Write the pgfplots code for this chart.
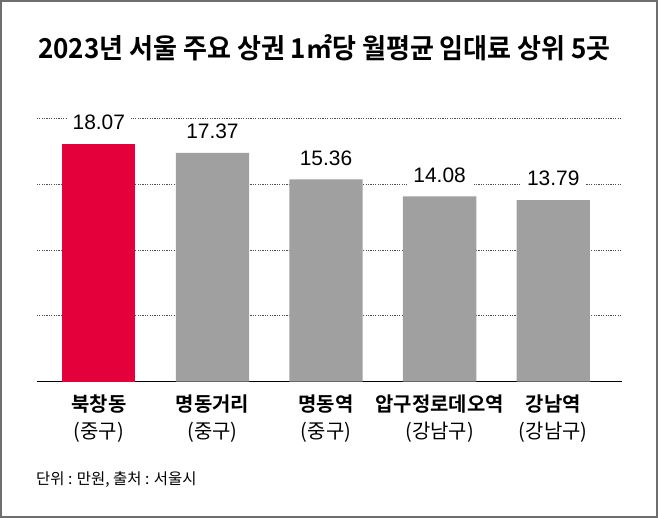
\documentclass[border=0pt]{standalone}
\usepackage{pgfplots}
\pgfplotsset{compat=1.18}
\usepackage{fontspec}
\setmainfont{Liberation Sans}
\newfontfamily\kr[BoldFont={Noto Sans CJK KR Bold}]{Noto Sans CJK KR}
\definecolor{barred}{RGB}{228,0,58}
\definecolor{bargray}{RGB}{160,160,160}
\definecolor{gridc}{RGB}{80,80,80}
\definecolor{framec}{RGB}{110,110,110}
\begin{document}
\begin{tikzpicture}[x=1bp,y=1bp]
\path[use as bounding box] (0,0) rectangle (658,518);
\fill[white] (0,0) rectangle (658,518);
\draw[framec, line width=1.6bp] (0.8,0.8) rectangle (657.2,517.2);
\node[anchor=west, inner sep=0pt] at (38,470.5) {\scalebox{0.95}[1]{\kr\bfseries\fontsize{27.5}{30}\selectfont 2023년 서울 주요 상권 1㎡당 월평균 임대료 상위 5곳}};
\node[anchor=west, inner sep=0pt] at (36,38) {\kr\fontsize{15.5}{18}\selectfont 단위 : 만원, 출처 : 서울시};
\begin{axis}[
  at={(36.7bp,136.3bp)}, anchor=south west,
  width=585bp, height=263.4bp, scale only axis,
  xmin=-0.547, xmax=4.603, ymin=0, ymax=20,
  axis x line*=bottom, axis y line*=left,
  x axis line style={black, line width=1.3bp, -},
  y axis line style={draw=none},
  ybar, bar width=73.3bp,
  ytick={5,10,15,20}, yticklabels={},
  ymajorgrids, grid style={gridc, line width=0.8bp, dash pattern=on 1.2bp off 1.2bp},
  xtick={0,1,2,3,4},
  major tick length=0pt,
  xticklabels={
    {\bfseries 북창동\\(중구)},
    {\bfseries 명동거리\\(중구)},
    {\bfseries 명동역\\(중구)},
    {\bfseries 압구정로데오역\\(강남구)},
    {\bfseries 강남역\\(강남구)}},
  xticklabel style={align=center, anchor=north, inner sep=0pt, yshift=-13bp,
    font=\kr\fontsize{20}{27}\selectfont},
  nodes near coords,
  nodes near coords style={font=\fontsize{21}{24}\selectfont, fill=white,
    inner xsep=6bp, inner ysep=3bp, anchor=south, yshift=10.7bp, text=black},
  point meta=explicit symbolic,
]
\addplot[fill=barred, draw=none, bar shift=0pt] coordinates {(0,18.07) [18.07]};
\addplot[fill=bargray, draw=none, bar shift=0pt] coordinates {(1,17.37) [17.37] (2,15.36) [15.36] (3,14.08) [14.08] (4,13.79) [13.79]};
\end{axis}
\end{tikzpicture}
\end{document}
